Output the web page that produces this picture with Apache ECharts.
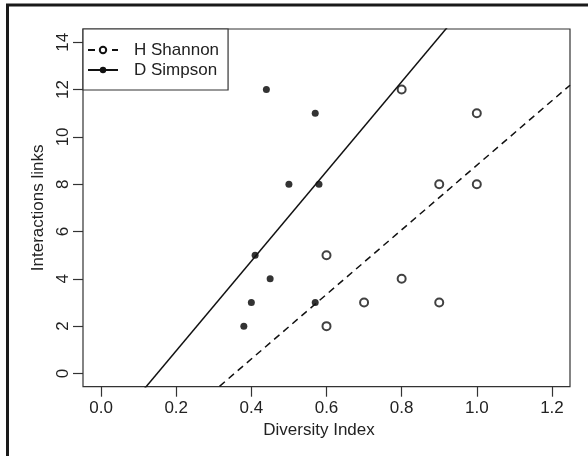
<!DOCTYPE html>
<html>
<head>
<meta charset="utf-8">
<script src="https://cdn.jsdelivr.net/npm/echarts@6/dist/echarts.min.js"></script>
<style>
html,body{margin:0;padding:0;background:#fff;}
#chart{width:588px;height:456px;}
</style>
</head>
<body>
<div id="chart"></div>
<script>
// ---- data ----
var shannonX = [0.8, 1.0, 0.9, 1.0, 0.6, 0.8, 0.7, 0.9, 0.6];
var shannonY = [12, 11, 8, 8, 5, 4, 3, 3, 2];
var simpsonX = [0.44, 0.57, 0.50, 0.58, 0.41, 0.45, 0.40, 0.57, 0.38];
var simpsonY = [12, 11, 8, 8, 5, 4, 3, 3, 2];
var xTicks = [0, 0.2, 0.4, 0.6, 0.8, 1.0, 1.2];
var yTicks = [0, 2, 4, 6, 8, 10, 12, 14];
var legendNames = ['H Shannon', 'D Simpson'];
var xTitle = 'Diversity Index';
var yTitle = 'Interactions links';

// axis ranges extended by 4% as in R
var xMin = -0.048, xMax = 1.248;
var yMin = -0.56, yMax = 14.56;

function pairs(xs, ys) { return xs.map(function (x, i) { return [x, ys[i]]; }); }
// least-squares regression line (as abline(lm(y ~ x)))
function fitLine(xs, ys) {
  var n = xs.length, mx = 0, my = 0, sxx = 0, sxy = 0;
  for (var i = 0; i < n; i++) { mx += xs[i]; my += ys[i]; }
  mx /= n; my /= n;
  for (var j = 0; j < n; j++) { sxx += (xs[j] - mx) * (xs[j] - mx); sxy += (xs[j] - mx) * (ys[j] - my); }
  var b = sxy / sxx, a = my - b * mx;
  return [[xMin, a + b * xMin], [xMax, a + b * xMax]];
}

var FONT = 'Liberation Sans, Arial, Helvetica, sans-serif';
var INK = '#111';
var TXT = '#222';

var chart = echarts.init(document.getElementById('chart'), null, {renderer: 'canvas'});
chart.setOption({
  animation: false,
  backgroundColor: '#fff',
  textStyle: {fontFamily: FONT},
  graphic: [{
    type: 'rect', silent: true, z: 100,
    shape: {x: 7.5, y: 5, width: 700, height: 600},
    style: {fill: 'none', stroke: '#1a1a1a', lineWidth: 3}
  }],
  grid: {
    left: 83, right: 18, top: 29, bottom: 69.3,
    show: true, borderColor: '#333', borderWidth: 1.2, backgroundColor: 'transparent'
  },
  legend: {
    data: legendNames,
    orient: 'vertical',
    left: 83, top: 29,
    padding: [12.5, 9, 11.5, 4],
    itemGap: 3,
    itemWidth: 30, itemHeight: 8,
    backgroundColor: '#fff',
    borderColor: '#333', borderWidth: 1.2,
    selectedMode: false,
    textStyle: {fontSize: 17, color: TXT, fontFamily: FONT, lineHeight: 17, padding: [0, 0, 0, 11]},
    z: 10
  },
  xAxis: {
    type: 'value', min: xMin, max: xMax,
    name: xTitle, nameLocation: 'middle', nameGap: 30,
    nameTextStyle: {fontSize: 17, color: TXT, fontFamily: FONT, lineHeight: 17, padding: [0, 15, 0, 0]},
    axisLine: {show: false, onZero: false},
    splitLine: {show: false},
    axisTick: {show: true, customValues: xTicks, length: 10, inside: false, lineStyle: {color: '#333', width: 1.2}},
    axisLabel: {customValues: xTicks, margin: 13, fontSize: 17, color: TXT, fontFamily: FONT, lineHeight: 17,
      formatter: function (v) { return v.toFixed(1); }}
  },
  yAxis: {
    type: 'value', min: yMin, max: yMax,
    name: yTitle, nameLocation: 'middle', nameGap: 35,
    nameTextStyle: {fontSize: 17, color: TXT, fontFamily: FONT, lineHeight: 17},
    axisLine: {show: false, onZero: false},
    splitLine: {show: false},
    axisTick: {show: true, customValues: yTicks, length: 10, inside: false, lineStyle: {color: '#333', width: 1.2}},
    axisLabel: {customValues: yTicks, margin: 11, rotate: 90, fontSize: 17, color: TXT, fontFamily: FONT, lineHeight: 17,
      formatter: function (v) { return String(Math.round(v)); }}
  },
  series: [
    {
      name: legendNames[0], type: 'line', data: fitLine(shannonX, shannonY),
      showSymbol: false, symbol: 'emptyCircle', clip: true, silent: true,
      itemStyle: {color: INK},
      lineStyle: {color: INK, width: 1.5, type: [7, 5]}
    },
    {
      name: legendNames[0], type: 'scatter', data: pairs(shannonX, shannonY),
      symbol: 'emptyCircle', symbolSize: 8,
      itemStyle: {color: INK, borderColor: INK, borderWidth: 1.6}
    },
    {
      name: legendNames[1], type: 'line', data: fitLine(simpsonX, simpsonY),
      showSymbol: false, symbol: 'circle', clip: true, silent: true,
      itemStyle: {color: INK},
      lineStyle: {color: INK, width: 1.5, type: 'solid'}
    },
    {
      name: legendNames[1], type: 'scatter', data: pairs(simpsonX, simpsonY),
      symbol: 'circle', symbolSize: 7,
      itemStyle: {color: '#000'}
    }
  ]
});
</script>
</body>
</html>
